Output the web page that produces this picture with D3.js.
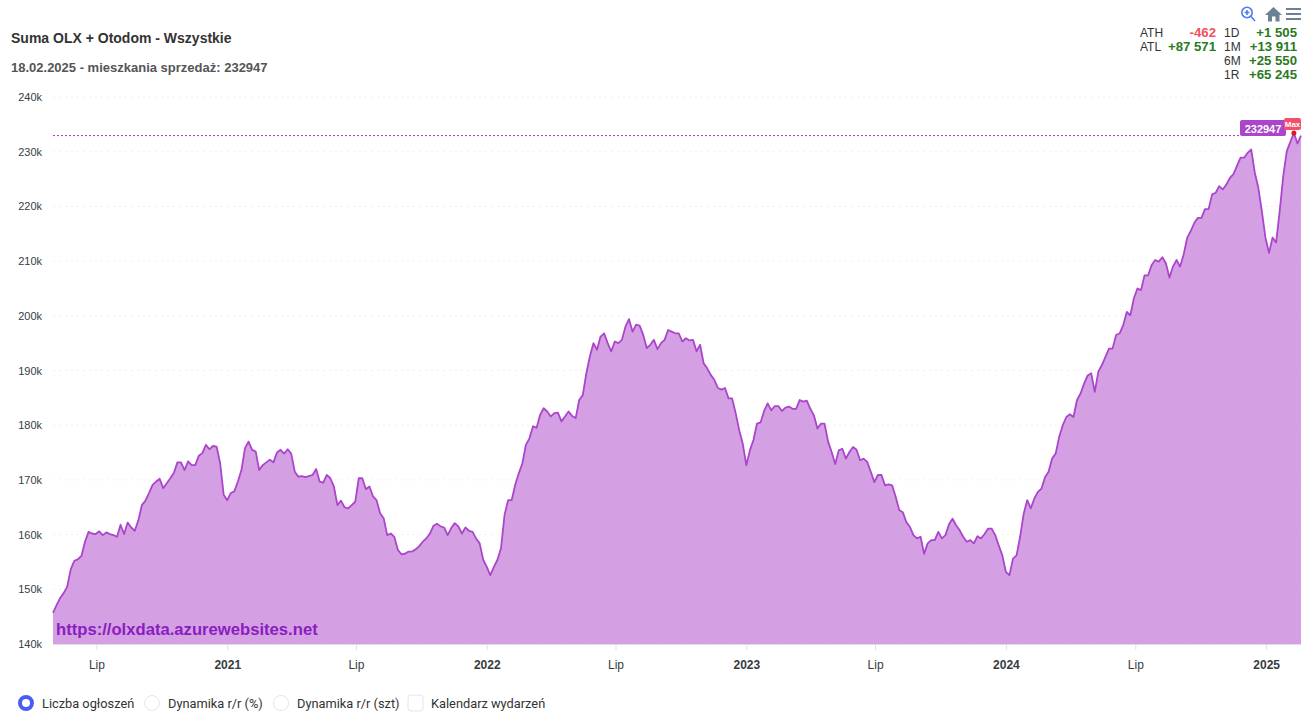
<!DOCTYPE html>
<html lang="pl">
<head>
<meta charset="utf-8">
<title>Suma OLX + Otodom</title>
<script src="https://cdn.jsdelivr.net/npm/d3@7/dist/d3.min.js"></script>
<style>
html,body{margin:0;padding:0;background:#fff;}
svg{display:block;}
text{font-family:"Liberation Sans",Arial,sans-serif;}
</style>
</head>
<body>
<div id="chart"></div>
<script>
const startDate = "2020-05-01";
const stepDays = 5;
const listingsK = [
145.7,147.1,148.4,149.3,150.5,153.7,155.2,155.5,156.1,158.7,
160.5,160.2,160.1,160.6,159.9,160.4,160.1,159.9,159.6,161.8,
160.1,162.2,161.3,160.7,162.6,165.4,166.2,167.6,169.1,169.7,
170.2,168.5,169.4,170.3,171.3,173.2,173.2,171.8,173.4,172.7,
172.7,174.4,174.9,176.4,175.6,176.2,176.1,173.1,167.3,166.3,
167.6,167.9,169.7,171.8,175.8,177.0,175.5,175.2,171.8,172.7,
173.2,173.7,173.2,175.0,175.5,174.8,175.6,174.8,171.5,170.6,
170.7,170.5,170.7,170.9,172.0,169.7,169.5,170.9,170.3,168.8,
165.4,166.2,165.0,164.8,165.4,166.0,170.3,170.3,168.3,168.8,
167.0,166.3,163.9,163.0,159.9,160.2,159.6,157.2,156.4,156.5,
156.9,156.9,157.3,157.9,158.7,159.3,160.2,161.6,162.0,161.5,
161.3,159.9,161.2,162.1,161.5,160.2,161.3,160.7,160.5,159.3,
158.4,155.4,154.1,152.6,154.1,155.4,157.5,163.6,166.3,166.3,
169.1,171.2,173.0,176.4,177.6,179.8,179.5,181.9,183.1,182.5,
181.6,182.2,182.3,180.7,181.6,182.5,181.7,181.3,184.6,185.5,
189.5,192.6,195.0,193.8,196.2,196.8,195.0,193.5,195.3,195.0,
195.6,198.0,199.4,197.1,198.4,198.2,196.5,194.1,194.7,195.6,
193.9,195.0,195.6,197.4,197.1,196.8,196.8,195.3,195.9,195.5,
195.6,193.5,194.7,191.3,190.4,189.2,188.3,186.8,186.5,186.8,
184.9,184.9,182.2,179.1,176.6,172.7,175.4,177.3,180.3,180.5,
182.6,184.0,182.7,183.5,183.5,182.6,183.2,183.4,183.0,183.0,
184.6,184.3,184.5,183.0,181.8,179.4,180.3,180.3,177.0,175.1,
172.9,175.4,175.7,173.9,175.1,176.0,175.5,173.6,173.9,173.3,
171.5,169.6,170.9,170.9,169.0,169.2,169.0,166.9,164.5,164.1,
162.3,161.4,159.9,159.3,159.6,156.5,158.4,159.0,159.0,160.5,
159.3,159.9,161.9,162.9,161.7,160.8,159.6,158.7,159.0,158.4,
159.7,159.3,160.1,161.1,161.1,159.9,158.0,156.2,153.2,152.6,
155.6,156.2,159.6,163.8,166.3,164.8,166.6,167.8,168.4,170.5,
171.5,173.9,174.8,177.9,180.0,181.5,182.0,181.5,184.6,185.8,
187.6,189.1,189.5,186.1,189.8,191.0,192.5,194.0,194.0,196.5,
196.8,198.3,200.7,200.1,203.2,205.0,204.7,207.4,207.4,209.3,
210.2,209.9,210.7,209.6,207.0,209.0,210.2,209.0,211.2,214.3,
215.5,217.0,217.9,217.9,219.5,219.5,222.2,222.5,223.7,223.1,
224.0,225.2,225.9,227.4,228.9,228.9,229.8,230.4,226.2,223.4,
219.1,214.3,211.5,214.3,213.4,219.1,225.5,230.1,231.8,233.409,
231.5,232.947
];
const yTicks = [140,150,160,170,180,190,200,210,220,230,240];
const monthTicks = ["2020-07-01","2021-01-01","2021-07-01","2022-01-01","2022-07-01","2023-01-01","2023-07-01","2024-01-01","2024-07-01","2025-01-01"];
const statsLeft = [["ATH","-462"],["ATL","+87 571"]];
const statsRight = [["1D","+1 505"],["1M","+13 911"],["6M","+25 550"],["1R","+65 245"]];
const legendItems = [
  {label:"Liczba ogłoszeń",kind:"on",x:26,tx:42},
  {label:"Dynamika r/r (%)",kind:"radio",x:152,tx:168},
  {label:"Dynamika r/r (szt)",kind:"radio",x:281,tx:297},
  {label:"Kalendarz wydarzeń",kind:"check",x:416,tx:431}
];
const titleText = "Suma OLX + Otodom - Wszystkie";
const subtitleText = "18.02.2025 - mieszkania sprzedaż: 232947";
const watermarkText = "https://olxdata.azurewebsites.net";
const lastValue = 232947;

const parse = d3.utcParse("%Y-%m-%d");
const t0 = parse(startDate);
const series = listingsK.map((v,i)=>({date:d3.utcDay.offset(t0,i*stepDays),value:v*1000}));

const W=1310,H=718;
const svg=d3.select("#chart").append("svg").attr("width",W).attr("height",H);
const x=d3.scaleUtc().domain([t0,series[series.length-1].date]).range([53,1301]);
const y=d3.scaleLinear().domain([140000,240000]).range([644,97]);

// grid
svg.append("g").selectAll("line").data(yTicks).join("line")
  .attr("x1",53).attr("x2",1301)
  .attr("y1",d=>y(d*1000)).attr("y2",d=>y(d*1000))
  .attr("stroke","#f0f0f0").attr("stroke-dasharray","2 4");

// area + line
const area=d3.area().x(d=>x(d.date)).y0(y(140000)).y1(d=>y(d.value));
const line=d3.line().x(d=>x(d.date)).y(d=>y(d.value));
svg.append("path").datum(series).attr("d",area).attr("fill","#a941c7").attr("fill-opacity",0.5);
svg.append("path").datum(series).attr("d",line).attr("fill","none").attr("stroke","#ab45cb").attr("stroke-width",1.8).attr("stroke-linejoin","round");

// y axis labels
const yAxis=d3.axisLeft(y).tickValues(yTicks.map(d=>d*1000)).tickFormat(d=>(d/1000)+"k").tickSize(0);
const gy=svg.append("g").attr("transform","translate(42,0)").call(yAxis);
gy.select(".domain").remove();
gy.selectAll("text").attr("x",0).attr("font-size",11).attr("fill","#373d3f").style("font-family",'"Liberation Sans",Arial,sans-serif');

// x axis
const xAxis=d3.axisBottom(x).tickValues(monthTicks.map(parse)).tickFormat(d=>d.getUTCMonth()===0?String(d.getUTCFullYear()):"Lip").tickSize(6);
const gx=svg.append("g").attr("transform","translate(0,644)").call(xAxis);
gx.select(".domain").attr("stroke","#e0e0e0").attr("d","M53,0.5H1301");
gx.selectAll("line").attr("stroke","#e0e0e0");
gx.selectAll("text").attr("y",16).attr("font-size",12).attr("fill","#373d3f")
  .style("font-family",'"Liberation Sans",Arial,sans-serif')
  .attr("font-weight",d=>d.getUTCMonth()===0?700:400);

// watermark
svg.append("text").attr("x",56).attr("y",635).attr("font-size",16.65).attr("font-weight",700).attr("fill","#8a1dbf").text(watermarkText);

// annotation
const yLast=y(lastValue);
svg.append("line").attr("x1",53).attr("x2",1240).attr("y1",yLast).attr("y2",yLast).attr("stroke","#9a40b8").attr("stroke-dasharray","2 2");
svg.append("rect").attr("x",1240).attr("y",120).attr("width",46).attr("height",16).attr("rx",2).attr("fill","#ab45cb");
svg.append("text").attr("x",1263).attr("y",132.5).attr("text-anchor","middle").attr("font-size",11).attr("font-weight",700).attr("fill","#fff").text(lastValue);
const maxPoint=series.reduce((a,b)=>b.value>a.value?b:a);
svg.append("rect").attr("x",1284).attr("y",118).attr("width",17).attr("height",12).attr("rx",2).attr("fill","#f0506e");
svg.append("text").attr("x",1292.5).attr("y",127).attr("text-anchor","middle").attr("font-size",8).attr("font-weight",700).attr("fill","#fff").text("Max");
svg.append("circle").attr("cx",x(maxPoint.date)).attr("cy",y(maxPoint.value)).attr("r",2.5).attr("fill","#e01818");

// titles
svg.append("text").attr("x",11).attr("y",43).attr("font-size",14).attr("font-weight",700).attr("fill","#333").text(titleText);
svg.append("text").attr("x",11).attr("y",72).attr("font-size",13).attr("font-weight",700).attr("fill","#555").text(subtitleText);

// stats
const rowY=i=>37+i*14;
statsLeft.forEach((r,i)=>{
  svg.append("text").attr("x",1140).attr("y",rowY(i)).attr("font-size",12).attr("fill","#333").text(r[0]);
  svg.append("text").attr("x",1216).attr("y",rowY(i)).attr("text-anchor","end").attr("font-size",13.2).attr("font-weight",700)
    .attr("fill",r[1][0]==="-"?"#f0505f":"#2a7a1e").text(r[1]);
});
statsRight.forEach((r,i)=>{
  svg.append("text").attr("x",1224).attr("y",rowY(i)).attr("font-size",12).attr("fill","#333").text(r[0]);
  svg.append("text").attr("x",1297).attr("y",rowY(i)).attr("text-anchor","end").attr("font-size",13.2).attr("font-weight",700).attr("fill","#2a7a1e").text(r[1]);
});

// toolbar icons
const zi=svg.append("g").attr("fill","none").attr("stroke","#4d7cf0").attr("stroke-width",1.6);
zi.append("circle").attr("cx",1247).attr("cy",12.5).attr("r",5.2);
zi.append("path").attr("d","M1251,16.5L1255,21M1244.5,12.5h5M1247,10v5");
svg.append("path").attr("d","M1273.5,7L1282,15h-2.5v6.5h-4v-5h-3.5v5h-4V15H1265Z").attr("fill","#6e8192");
svg.append("path").attr("d","M1286,9h15M1286,14h15M1286,19h15").attr("stroke","#6e8192").attr("stroke-width",1.8).attr("fill","none");

// legend
legendItems.forEach(d=>{
  if(d.kind==="on"){
    svg.append("circle").attr("cx",d.x).attr("cy",703).attr("r",6).attr("fill","#fff").attr("stroke","#4a5cf5").attr("stroke-width",4);
  }else if(d.kind==="radio"){
    svg.append("circle").attr("cx",d.x).attr("cy",703).attr("r",7.5).attr("fill","#fff").attr("stroke","#e3e5ea");
  }else{
    svg.append("rect").attr("x",d.x-8).attr("y",695).attr("width",15).attr("height",16).attr("rx",3).attr("fill","#fff").attr("stroke","#e3e5ea");
  }
  svg.append("text").attr("x",d.tx).attr("y",708).attr("font-size",12.8).attr("fill","#333").style("font-family","Roboto").text(d.label);
});
</script>
</body>
</html>
